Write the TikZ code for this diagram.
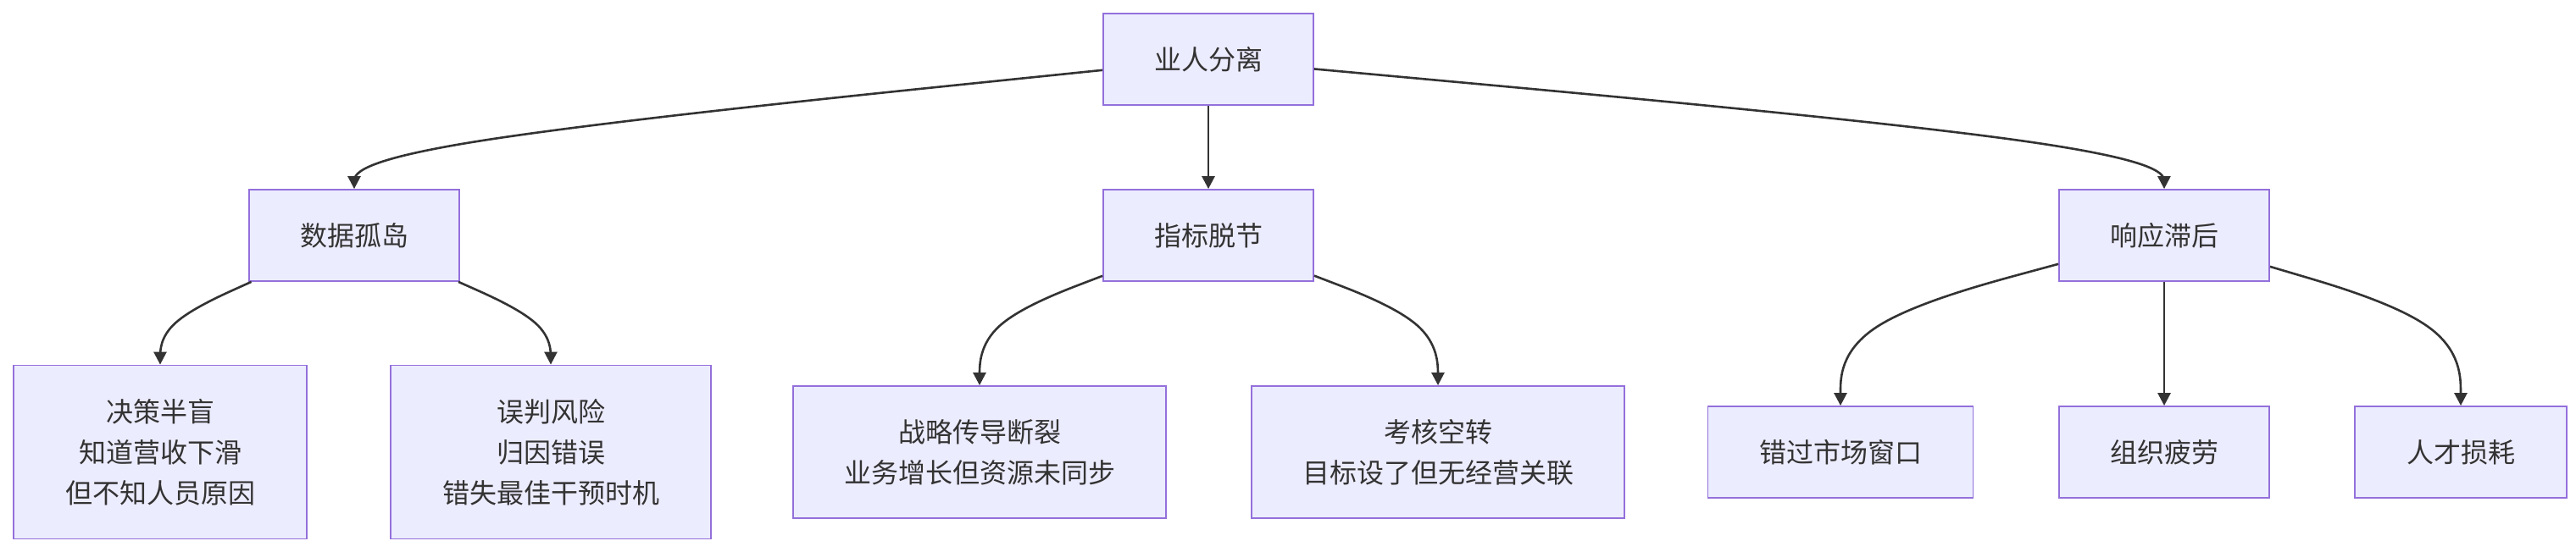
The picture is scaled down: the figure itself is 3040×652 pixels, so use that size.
\documentclass[tikz,border=0pt]{standalone}
\usepackage{fontspec}
\setmainfont{Noto Sans CJK SC}
\usetikzlibrary{arrows.meta,calc}
\definecolor{nodefill}{HTML}{ECECFF}
\definecolor{nodeline}{HTML}{9370DB}
\definecolor{txt}{HTML}{333333}
\tikzset{
  box/.style={draw=nodeline, fill=nodefill, line width=0.9pt, text=txt,
    font=\fontsize{16}{24}\selectfont, align=center, inner sep=0pt,
    minimum height=54pt},
  conn/.style={draw=txt, line width=1.3pt, -{Triangle[length=7.5pt,width=7.5pt]}}
}
\newcommand{\mmedge}[3]{%
  \path (#1) -- (#2) coordinate[pos=0] (tmpA);
  \draw[conn] (tmpA) -- ($5/6*(tmpA)+1/6*(#2)$)
    .. controls ($2/3*(tmpA)+1/3*(#2)$) and ($1/3*(tmpA)+2/3*(#2)$)
    .. ($1/6*(tmpA)+2/3*(#2)+1/6*(#3.north)$)
    .. controls ($2/3*(#2)+1/3*(#3.north)$) and ($1/3*(#2)+2/3*(#3.north)$)
    .. ($1/6*(#2)+5/6*(#3.north)$) -- (#3.north);}
\begin{document}
\begin{tikzpicture}[x=0.5pt,y=-0.5pt]
\fill[white] (0,0) rectangle (3040,652);
\useasboundingbox (0,0) rectangle (3040,652);
% level 0
\node[box, minimum width=124pt] (root) at (1426,70) {业人分离};
% level 1
\node[box, minimum width=124pt] (ds) at (418,278) {数据孤岛};
\node[box, minimum width=124pt] (zb) at (1426,278) {指标脱节};
\node[box, minimum width=124pt] (xy) at (2554,278) {响应滞后};
% level 2
\node[box, minimum width=173pt, minimum height=102.5pt] (jc) at (189,534) {决策半盲\\知道营收下滑\\但不知人员原因};
\node[box, minimum width=189pt, minimum height=102.5pt] (wp) at (650,534) {误判风险\\归因错误\\错失最佳干预时机};
\node[box, minimum width=220pt, minimum height=78pt] (zl) at (1156,534) {战略传导断裂\\业务增长但资源未同步};
\node[box, minimum width=220pt, minimum height=78pt] (kh) at (1697,534) {考核空转\\目标设了但无经营关联};
\node[box, minimum width=156.5pt] (cg) at (2172,534) {错过市场窗口};
\node[box, minimum width=124pt] (zz) at (2554,534) {组织疲劳};
\node[box, minimum width=125pt] (rc) at (2904,534) {人才损耗};
% bend points
\coordinate (b1) at (ds.north |- 0,173.5);
\coordinate (b3) at (xy.north |- 0,173.5);
\coordinate (c1) at (jc.north |- 0,381.5);
\coordinate (c2) at (wp.north |- 0,381.5);
\coordinate (c3) at (zl.north |- 0,381.5);
\coordinate (c4) at (kh.north |- 0,381.5);
\coordinate (c5) at (cg.north |- 0,381.5);
\coordinate (c7) at (rc.north |- 0,381.5);
% connectors
\mmedge{root}{b1}{ds}
\draw[conn] (root) -- (zb);
\mmedge{root}{b3}{xy}
\mmedge{ds}{c1}{jc}
\mmedge{ds}{c2}{wp}
\mmedge{zb}{c3}{zl}
\mmedge{zb}{c4}{kh}
\mmedge{xy}{c5}{cg}
\draw[conn] (xy) -- (zz);
\mmedge{xy}{c7}{rc}
\end{tikzpicture}
\end{document}
